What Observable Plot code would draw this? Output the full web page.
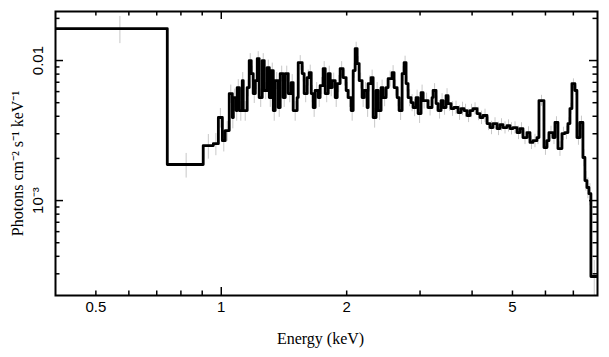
<!DOCTYPE html>
<html><head><meta charset="utf-8">
<script src="https://cdn.jsdelivr.net/npm/d3@7"></script>
<script src="https://cdn.jsdelivr.net/npm/@observablehq/plot@0.6"></script>
<style>body{margin:0;background:#fff} svg{display:block}</style>
</head><body><div id="chart"></div>
<script>
// Bin start energies (keV) and flux (photons cm^-2 s^-1 keV^-1)
const binStart = [0.400,0.742,0.905,0.957,0.984,1.006,1.022,1.045,1.063,1.069,
1.086,1.092,1.105,1.123,1.129,1.154,1.167,1.180,1.193,1.207,
1.220,1.233,1.254,1.268,1.289,1.304,1.318,1.333,1.347,1.370,
1.385,1.408,1.424,1.448,1.472,1.488,1.521,1.530,1.564,1.581,
1.608,1.626,1.644,1.662,1.680,1.709,1.727,1.756,1.776,1.806,
1.826,1.846,1.877,1.898,1.929,1.961,1.994,2.016,2.050,2.073,
2.096,2.119,2.143,2.178,2.203,2.239,2.252,2.289,2.315,2.353,
2.380,2.419,2.446,2.487,2.515,2.571,2.599,2.643,2.672,2.717,
2.747,2.777,2.808,2.855,2.887,2.935,2.968,3.017,3.051,3.085,
3.136,3.206,3.224,3.278,3.314,3.370,3.407,3.464,3.502,3.561,
3.620,3.701,3.763,3.826,3.890,3.955,4.021,4.111,4.179,4.249,
4.344,4.417,4.490,4.591,4.667,4.745,4.851,4.932,5.015,5.127,
5.212,5.299,5.418,5.508,5.600,5.725,5.789,5.951,6.050,6.118,
6.254,6.324,6.429,6.573,6.683,6.794,6.870,6.946,7.062,7.140,
7.260,7.381,7.463,7.546,7.630,7.714];
const flux = [0.01693,0.00181,0.00247,0.00255,0.00392,0.00268,0.00316,0.00581,0.00392,0.00544,
0.00439,0.00641,0.00439,0.00720,0.00439,0.00641,0.0100,0.00807,0.00581,0.00720,
0.01033,0.00544,0.0100,0.00611,0.00891,0.00544,0.00848,0.00439,0.00720,0.00462,
0.00807,0.00544,0.00807,0.00581,0.00696,0.00439,0.00544,0.00968,0.00807,0.00581,
0.00756,0.00821,0.00581,0.00462,0.00611,0.00544,0.00663,0.00877,0.00581,0.00807,
0.00641,0.00720,0.00544,0.00685,0.00877,0.00756,0.00611,0.00544,0.00439,0.00848,
0.01218,0.00952,0.00720,0.00544,0.00611,0.00462,0.00685,0.00756,0.00392,0.00611,
0.00439,0.00641,0.00544,0.00641,0.00744,0.00821,0.00641,0.00544,0.00439,0.00807,
0.00968,0.00685,0.00544,0.00501,0.00462,0.00544,0.00418,0.00591,0.00518,0.00518,
0.00462,0.00544,0.00611,0.00493,0.00439,0.00518,0.00462,0.00562,0.00493,0.00454,
0.00462,0.00425,0.00454,0.00439,0.00405,0.00439,0.00454,0.00418,0.00392,0.00405,
0.00355,0.00332,0.00355,0.00327,0.00349,0.00332,0.00343,0.00327,0.00332,0.00306,
0.00327,0.00282,0.00306,0.00260,0.00268,0.00282,0.00518,0.00239,0.00268,0.00306,
0.00282,0.00361,0.00235,0.00301,0.00306,0.00355,0.00454,0.00685,0.00611,0.00282,
0.00361,0.00203,0.00139,0.00124,0.00112,0.000287];
// Relative 1-sigma errors per bin (light grey bars)
const relErr = [0.22,0.20,0.20,0.18,0.16,0.17,0.16,0.15,0.17,0.15,
0.16,0.14,0.16,0.14,0.16,0.14,0.12,0.13,0.15,0.14,
0.12,0.15,0.12,0.14,0.13,0.15,0.13,0.16,0.14,0.15,
0.13,0.15,0.13,0.14,0.14,0.16,0.15,0.12,0.13,0.14,
0.13,0.13,0.14,0.15,0.14,0.15,0.14,0.12,0.14,0.13,
0.14,0.13,0.15,0.14,0.12,0.13,0.14,0.15,0.16,0.12,
0.11,0.12,0.13,0.15,0.14,0.15,0.13,0.13,0.16,0.14,
0.15,0.13,0.14,0.13,0.13,0.12,0.13,0.14,0.15,0.12,
0.11,0.13,0.14,0.14,0.14,0.13,0.15,0.13,0.13,0.13,
0.13,0.12,0.12,0.13,0.13,0.12,0.12,0.12,0.12,0.12,
0.11,0.12,0.11,0.11,0.11,0.11,0.10,0.11,0.11,0.11,
0.11,0.11,0.10,0.11,0.10,0.10,0.10,0.10,0.10,0.11,
0.10,0.11,0.10,0.11,0.11,0.11,0.09,0.12,0.11,0.11,
0.11,0.10,0.12,0.11,0.11,0.10,0.09,0.08,0.08,0.12,
0.11,0.14,0.16,0.17,0.18,0.30];
const lastEdge = 8.0;

const xTickValues = [0.5, 1, 2, 5];
const xTickLabels = ["0.5", "1", "2", "5"];
const xMajorTicks = [1];
const xMinorTicks = [0.5, 0.6, 0.7, 0.8, 0.9, 2, 3, 4, 5, 6, 7];
const yMajorTicks = [0.001, 0.01];
const yMinorTicks = [3e-4, 4e-4, 5e-4, 6e-4, 7e-4, 8e-4, 9e-4, 2e-3, 3e-3, 4e-3, 5e-3, 6e-3, 7e-3, 8e-3, 9e-3, 0.02];
const yTickValues = [0.001, 0.01];
const yTickLabels = ["10\u207B\u00B3", "0.01"];
const xTitle = "Energy (keV)";
const yTitle = "Photons cm\u207B\u00B2 s\u207B\u00B9 keV\u207B\u00B9";

const steps = binStart.map((e, i) => ({e, f: flux[i]}));
steps.push({e: lastEdge, f: flux[flux.length - 1]});
const bins = binStart.map((e, i) => {
  const hi = i + 1 < binStart.length ? binStart[i + 1] : lastEdge;
  return {c: (e + hi) / 2, lo: flux[i] * (1 - relErr[i]), hi: flux[i] * (1 + relErr[i])};
});

const W = 609, H = 357, ML = 55, MR = 12, MT = 11, MB = 62;
const FW = W - ML - MR, FH = H - MT - MB;
const sans = "Liberation Sans, Arial, sans-serif";
const serif = "Liberation Serif, Times New Roman, serif";

const chart = Plot.plot({
  width: W,
  height: H,
  marginLeft: ML,
  marginRight: MR,
  marginTop: MT,
  marginBottom: MB,
  style: {background: "#fff"},
  x: {type: "log", domain: [0.4, 8], label: null, axis: null},
  y: {type: "log", domain: [2.1e-4, 0.0224], label: null, axis: null},
  marks: [
    Plot.ruleX(bins, {x: "c", y1: "lo", y2: "hi", stroke: "#c8c8c8", strokeWidth: 1, clip: true}),
    Plot.line(steps, {x: "e", y: "f", curve: "step-after", stroke: "black", strokeWidth: 2.8, clip: true}),
    Plot.frame({stroke: "black", strokeWidth: 2}),
    // inward tick marks on all four sides
    Plot.tickX(xMajorTicks, {x: d => d, insetTop: FH - 8, stroke: "black", strokeWidth: 1.5}),
    Plot.tickX(xMajorTicks, {x: d => d, insetBottom: FH - 8, stroke: "black", strokeWidth: 1.5}),
    Plot.tickX(xMinorTicks, {x: d => d, insetTop: FH - 4.5, stroke: "black", strokeWidth: 1.5}),
    Plot.tickX(xMinorTicks, {x: d => d, insetBottom: FH - 4.5, stroke: "black", strokeWidth: 1.5}),
    Plot.tickY(yMajorTicks, {y: d => d, insetRight: FW - 8, stroke: "black", strokeWidth: 1.5}),
    Plot.tickY(yMajorTicks, {y: d => d, insetLeft: FW - 8, stroke: "black", strokeWidth: 1.5}),
    Plot.tickY(yMinorTicks, {y: d => d, insetRight: FW - 4.5, stroke: "black", strokeWidth: 1.5}),
    Plot.tickY(yMinorTicks, {y: d => d, insetLeft: FW - 4.5, stroke: "black", strokeWidth: 1.5}),
    Plot.text(xTickValues, {x: d => d, text: (d, i) => xTickLabels[i], frameAnchor: "bottom", dy: 12, fontSize: 15, fontFamily: sans, fill: "black", lineAnchor: "middle"}),
    Plot.text(yTickValues, {y: d => d, text: (d, i) => yTickLabels[i], frameAnchor: "left", dx: -17, rotate: -90, fontSize: 15, fontFamily: sans, fill: "black", textAnchor: "middle", lineAnchor: "middle"}),
    Plot.text([xTitle], {text: d => d, frameAnchor: "bottom", dy: 43, dx: -6, fontSize: 16, fontFamily: serif, fill: "black", lineAnchor: "middle"}),
    Plot.text([yTitle], {text: d => d, frameAnchor: "left", dx: -38, dy: 10, rotate: -90, fontSize: 16, fontFamily: serif, fill: "black", textAnchor: "middle", lineAnchor: "middle"})
  ]
});
document.getElementById("chart").appendChild(chart);
</script>
</body></html>
